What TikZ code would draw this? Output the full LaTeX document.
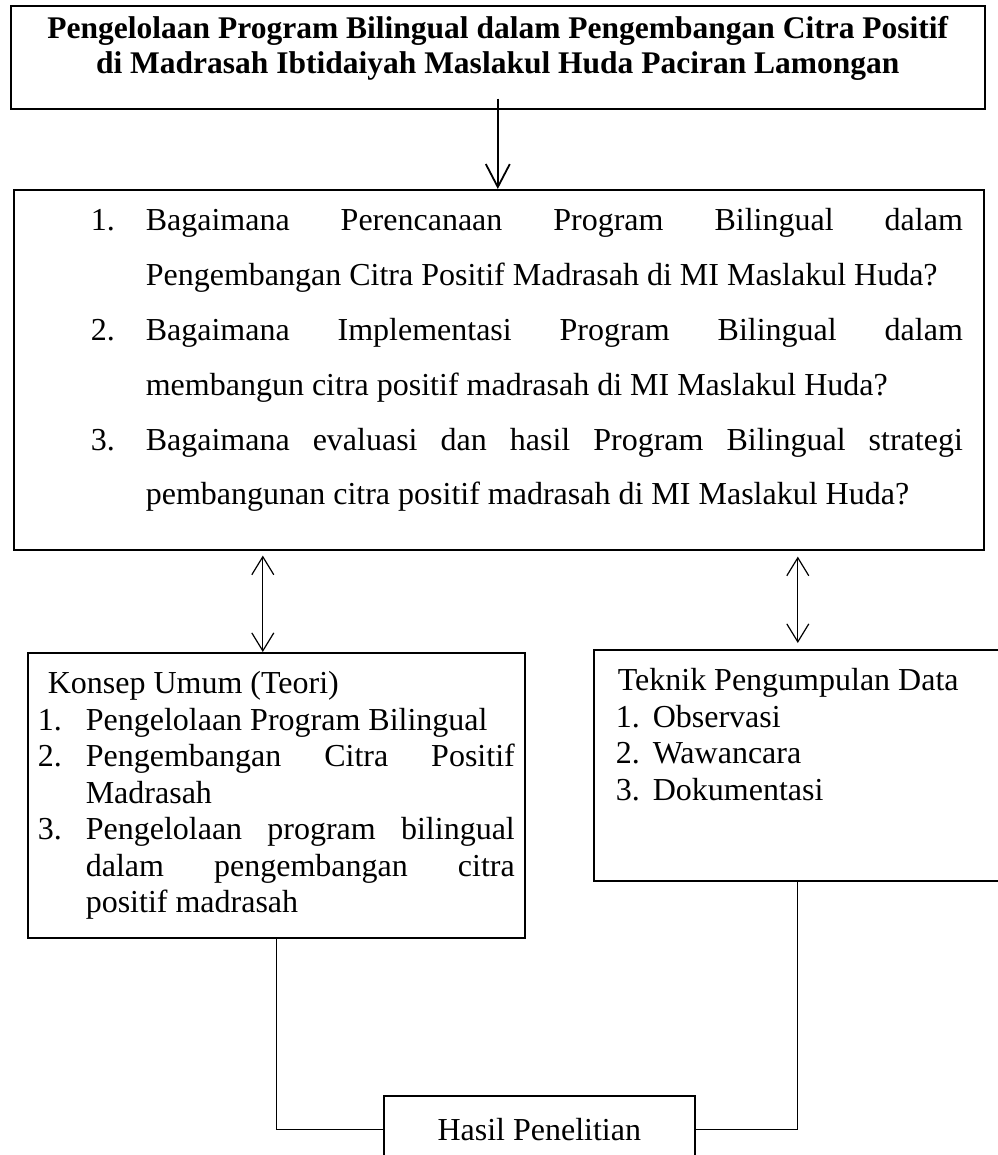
\documentclass[tikz,border=0pt]{standalone}
\usepackage{fontspec}
\setmainfont{Liberation Serif}
\usetikzlibrary{arrows.meta}

\setlength{\parindent}{0pt}
\newcommand{\nomor}[2]{\makebox[#1][l]{#2}}
\newcommand{\baris}[2]{\makebox[#1][s]{\spaceskip=0pt\xspaceskip=0pt\relax #2}}

\tikzset{
  kotak/.style={draw, line width=0.8pt, inner sep=0pt, anchor=north west, align=left,
    execute at begin node={\spaceskip=0pt\xspaceskip=0pt\relax}},
  garis/.style={line width=0.6pt},
  >={Straight Barb[length=9pt,width=11pt]},
}

\begin{document}
\begin{tikzpicture}[x=0.5pt, y=-0.5pt, font=\fontsize{16}{18.25}\selectfont]
  \useasboundingbox (0,0) rectangle (997,1155);
  % judul
  \node[kotak, text width=487pt, align=center, font=\fontsize{15.75}{17.5}\selectfont\bfseries] (judul) at (10,5)
    {\rule{0pt}{16.5pt}\mbox{Pengelolaan Program Bilingual dalam Pengembangan Citra Positif}\\
     \mbox{di Madrasah Ibtidaiyah Maslakul Huda Paciran Lamongan}\rule[-17.5pt]{0pt}{0pt}};
  % rumusan masalah
  \node[kotak, text width=485pt, font=\fontsize{16}{27.4}\selectfont] (rumusan) at (13,189)
    {\rule{0pt}{20.5pt}\hspace*{38.5pt}\nomor{27.5pt}{1.}\baris{408.5pt}{Bagaimana Perencanaan Program Bilingual dalam}\\
     \hspace*{66pt}Pengembangan Citra Positif Madrasah di MI Maslakul Huda?\\
     \hspace*{38.5pt}\nomor{27.5pt}{2.}\baris{408.5pt}{Bagaimana Implementasi Program Bilingual dalam}\\
     \hspace*{66pt}membangun citra positif madrasah di MI Maslakul Huda?\\
     \hspace*{38.5pt}\nomor{27.5pt}{3.}\baris{408.5pt}{Bagaimana evaluasi dan hasil Program Bilingual strategi}\\
     \hspace*{66pt}pembangunan citra positif madrasah di MI Maslakul Huda?\rule[-22.5pt]{0pt}{0pt}};
  % teori dan teknik
  \node[kotak, text width=248.5pt] (konsep) at (27,652)
    {\rule{0pt}{20.5pt}\hspace*{10pt}Konsep Umum (Teori)\\
     \hspace*{5pt}\nomor{24pt}{1.}Pengelolaan Program Bilingual\\
     \hspace*{5pt}\nomor{24pt}{2.}\baris{214.5pt}{Pengembangan Citra Positif}\\
     \hspace*{29pt}Madrasah\\
     \hspace*{5pt}\nomor{24pt}{3.}\baris{214.5pt}{Pengelolaan program bilingual}\\
     \hspace*{29pt}\baris{214.5pt}{dalam pengembangan citra}\\
     \hspace*{29pt}positif madrasah\rule[-12.5pt]{0pt}{0pt}};
  \node[kotak, text width=204pt] (teknik) at (593,649)
    {\rule{0pt}{20.5pt}\hspace*{12pt}Teknik Pengumpulan Data\\
     \hspace*{11pt}\nomor{18.5pt}{1.}Observasi\\
     \hspace*{11pt}\nomor{18.5pt}{2.}Wawancara\\
     \hspace*{11pt}\nomor{18.5pt}{3.}Dokumentasi\rule[-40.25pt]{0pt}{0pt}};
  \node[kotak, align=center, minimum width=155.5pt, minimum height=33.5pt] (hasil) at (383,1095) {Hasil Penelitian};
  % panah
  \draw[->, line width=0.9pt, >={Straight Barb[length=11.5pt,width=12pt]}] ([yshift=5.5pt]judul.south) -- (judul.south |- rumusan.north);
  \draw[garis, <->, shorten <=2.5pt] ([xshift=-6.75pt]konsep.north |- rumusan.south) -- ([xshift=-6.75pt]konsep.north);
  \draw[garis, <->, shorten <=3pt, shorten >=3pt] (teknik.north |- rumusan.south) -- (teknik.north);
  \draw[garis] (konsep.south) |- (hasil.west);
  \draw[garis] (teknik.south) |- (hasil.east);
\end{tikzpicture}
\end{document}
